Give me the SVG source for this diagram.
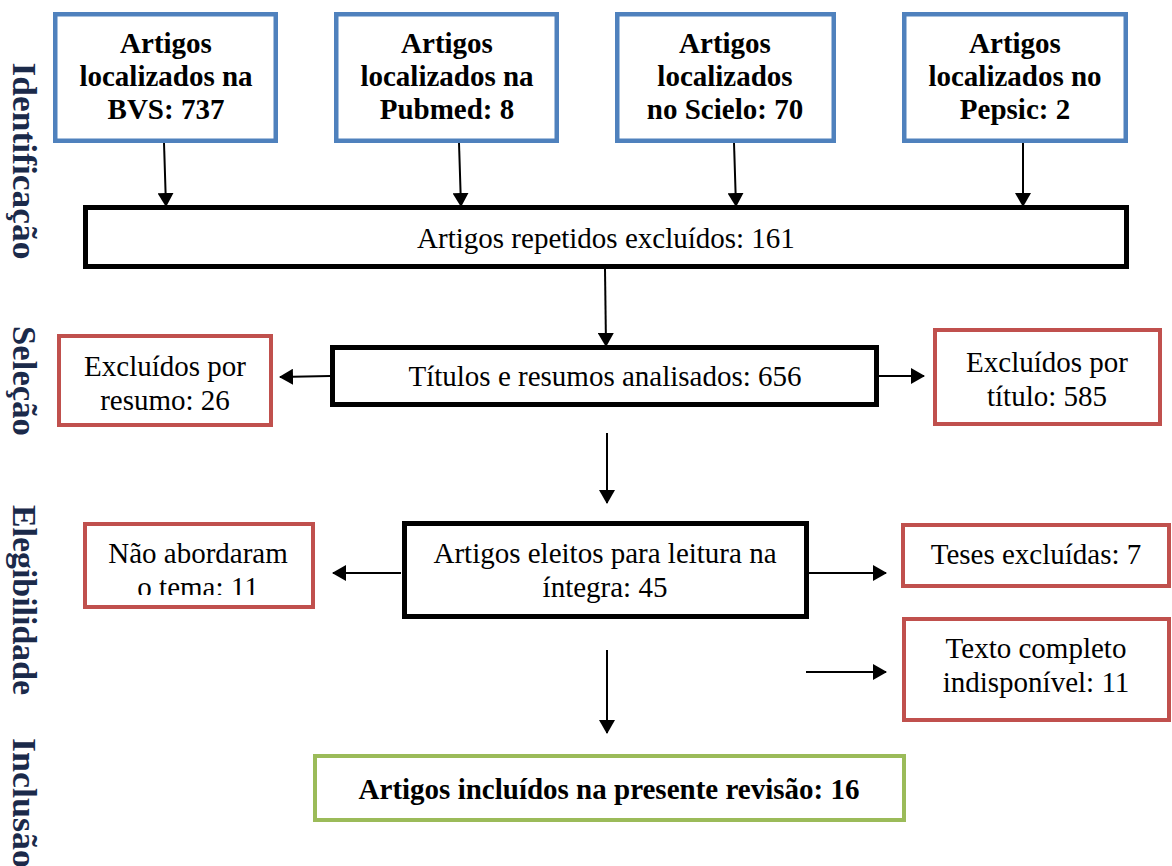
<svg xmlns="http://www.w3.org/2000/svg" width="1172" height="866" viewBox="0 0 1172 866">
<style>
  .t { font-family: 'Liberation Serif', 'Tinos', 'Times New Roman', 'DejaVu Serif', serif; font-size: 29px; fill: #000; text-anchor: middle; }
  .b { font-weight: bold; }
  .side { font-family: 'Liberation Serif', 'Tinos', 'Times New Roman', 'DejaVu Serif', serif; font-size: 34px; font-weight: bold; fill: #1B2A4A; text-anchor: middle; }
  .blue { fill: #fff; stroke: #4F81BD; stroke-width: 4.5; }
  .red { fill: #fff; stroke: #C0504D; stroke-width: 4; }
  .black { fill: #fff; stroke: #000; stroke-width: 5; }
  .green { fill: #fff; stroke: #9BBB59; stroke-width: 4; }
  .conn line { stroke: #000; stroke-width: 2; marker-end: url(#ah); }
</style>
<defs>
  <marker id="ah" viewBox="0 0 14 16" refX="13" refY="8" markerWidth="14" markerHeight="16" markerUnits="userSpaceOnUse" orient="auto">
    <path d="M0,0 L14,8 L0,16 Z" fill="#000"/>
  </marker>
  <clipPath id="clipTema"><rect x="85" y="524" width="228" height="71"/></clipPath>
</defs>
<rect width="1172" height="866" fill="#fff"/>

<g id="labels">
  <text class="side" transform="translate(13,161) rotate(90)" textLength="197" lengthAdjust="spacingAndGlyphs">Identificação</text>
  <text class="side" transform="translate(13,381) rotate(90)" textLength="110" lengthAdjust="spacingAndGlyphs">Seleção</text>
  <text class="side" transform="translate(13,600) rotate(90)" textLength="190" lengthAdjust="spacingAndGlyphs">Elegibilidade</text>
  <text class="side" transform="translate(13,803) rotate(90)" textLength="130" lengthAdjust="spacingAndGlyphs">Inclusão</text>
</g>

<g class="conn" id="connectors">
  <line x1="164" y1="143" x2="166" y2="206"/>
  <line x1="459" y1="143" x2="461" y2="206"/>
  <line x1="734" y1="143" x2="736" y2="206"/>
  <line x1="1023" y1="143" x2="1023" y2="206"/>
  <line x1="605" y1="269" x2="606" y2="346"/>
  <line x1="330" y1="376" x2="280" y2="377"/>
  <line x1="879" y1="376" x2="924" y2="376"/>
  <line x1="607" y1="433" x2="607" y2="503"/>
  <line x1="401" y1="573" x2="333" y2="573"/>
  <line x1="808" y1="573" x2="886" y2="573"/>
  <line x1="806" y1="672" x2="886" y2="672"/>
  <line x1="607" y1="650" x2="607" y2="733"/>
</g>

<g id="bvs">
  <rect class="blue" x="55.25" y="14.25" width="220.5" height="126.5"/>
  <text class="t b" x="166" y="53">Artigos</text>
  <text class="t b" x="166" y="86">localizados na</text>
  <text class="t b" x="166" y="119">BVS: 737</text>
</g>
<g id="pubmed">
  <rect class="blue" x="336.25" y="14.25" width="220.5" height="126.5"/>
  <text class="t b" x="447" y="53">Artigos</text>
  <text class="t b" x="447" y="86">localizados na</text>
  <text class="t b" x="447" y="119">Pubmed: 8</text>
</g>
<g id="scielo">
  <rect class="blue" x="617.25" y="14.25" width="216.5" height="126.5"/>
  <text class="t b" x="725" y="53">Artigos</text>
  <text class="t b" x="725" y="86">localizados</text>
  <text class="t b" x="725" y="119">no Scielo: 70</text>
</g>
<g id="pepsic">
  <rect class="blue" x="904.25" y="14.25" width="221.5" height="126.5"/>
  <text class="t b" x="1015" y="53">Artigos</text>
  <text class="t b" x="1015" y="86">localizados no</text>
  <text class="t b" x="1015" y="119">Pepsic: 2</text>
</g>

<g id="repetidos">
  <rect class="black" x="85.5" y="207.5" width="1041" height="59"/>
  <text class="t" x="606" y="248">Artigos repetidos excluídos: 161</text>
</g>

<g id="titulos">
  <rect class="black" x="332.5" y="347.5" width="544" height="57"/>
  <text class="t" x="605" y="386">Títulos e resumos analisados: 656</text>
</g>

<g id="exc-resumo">
  <rect class="red" x="59" y="336" width="212" height="89"/>
  <text class="t" x="165" y="376">Excluídos por</text>
  <text class="t" x="165" y="410">resumo: 26</text>
</g>

<g id="exc-titulo">
  <rect class="red" x="935" y="330" width="225" height="94"/>
  <text class="t" x="1047" y="372">Excluídos por</text>
  <text class="t" x="1047" y="406">título: 585</text>
</g>

<g id="eleitos">
  <rect class="black" x="404.5" y="523.5" width="402" height="93"/>
  <text class="t" x="605" y="563">Artigos eleitos para leitura na</text>
  <text class="t" x="605" y="597">íntegra: 45</text>
</g>

<g id="nao-abordaram">
  <rect class="red" x="85" y="524" width="228" height="83"/>
  <text class="t" x="198" y="563">Não abordaram</text>
  <text class="t" x="198" y="597" clip-path="url(#clipTema)">o tema: 11</text>
</g>

<g id="teses">
  <rect class="red" x="903" y="525" width="266" height="61"/>
  <text class="t" x="1036" y="564">Teses excluídas: 7</text>
</g>

<g id="texto-completo">
  <rect class="red" x="904" y="619" width="265" height="101"/>
  <text class="t" x="1036" y="658">Texto completo</text>
  <text class="t" x="1036" y="692">indisponível: 11</text>
</g>

<g id="incluidos">
  <rect class="green" x="315" y="756" width="589" height="64"/>
  <text class="t b" x="609" y="799">Artigos incluídos na presente revisão: 16</text>
</g>
</svg>
